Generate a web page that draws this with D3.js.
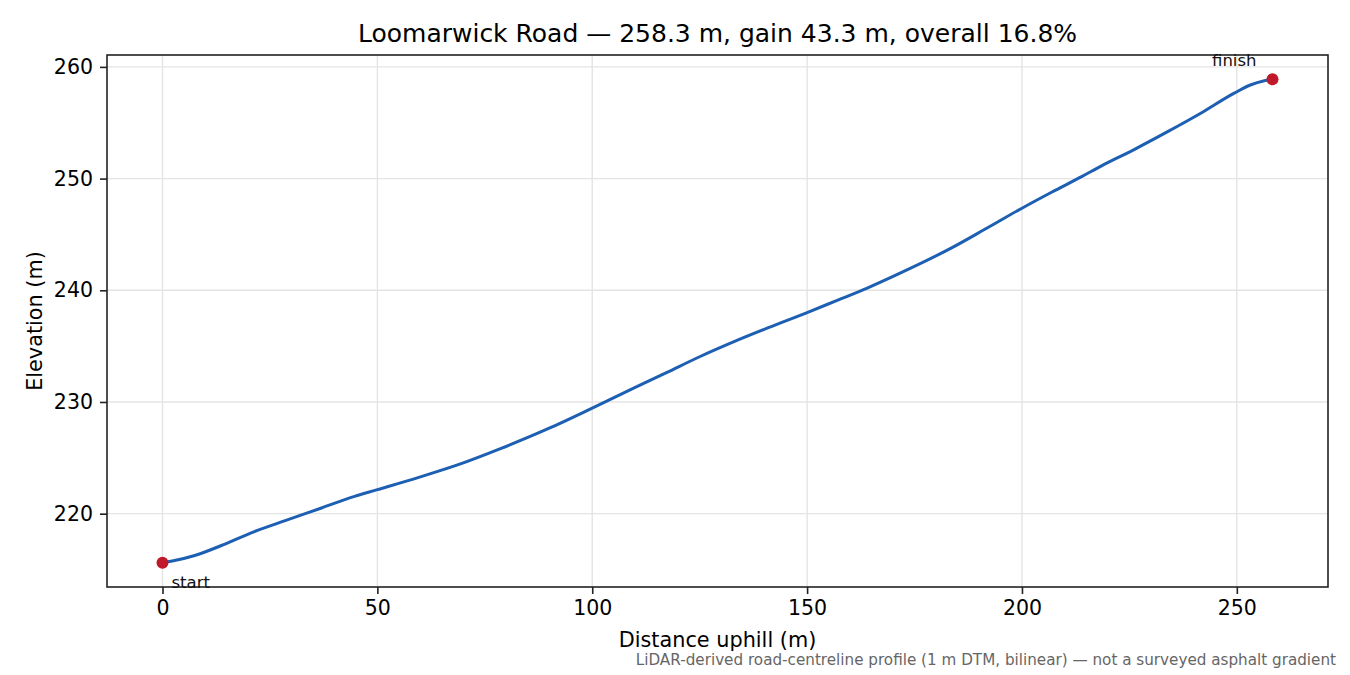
<!DOCTYPE html>
<html>
<head>
<meta charset="utf-8">
<title>Loomarwick Road profile</title>
<script src="https://d3js.org/d3.v7.min.js"></script>
<style>
  body { margin: 0; background: #fff; }
  text { font-family: "DejaVu Sans", sans-serif; }
</style>
</head>
<body>
<div id="chart"></div>
<script>
// distance along the road (m) and elevation (m), read from the profile
const distance = [0, 2.8, 7.5, 13.7, 21.4, 29.2, 37, 44.7, 50, 60, 70, 78.5, 90, 100, 110, 117.4,
                  125, 133, 141, 150, 157, 164, 172, 183.4, 192, 200, 207, 214, 218.3, 226.1,
                  233.9, 241.6, 249.4, 253.3, 256.4, 258.3];
const elevation = [215.6, 215.8, 216.25, 217.15, 218.4, 219.46, 220.51, 221.55, 222.15, 223.3,
                   224.55, 225.8, 227.65, 229.45, 231.3, 232.65, 234.05, 235.4, 236.65, 238.0,
                   239.1, 240.2, 241.6, 243.75, 245.6, 247.35, 248.8, 250.2, 251.1, 252.6,
                   254.2, 255.85, 257.65, 258.4, 258.76, 258.9];
const xTicks = [0, 50, 100, 150, 200, 250];
const yTicks = [220, 230, 240, 250, 260];
const endpoints = ["start", "finish"];

const W = 1350, H = 675;
const margin = {top: 55, right: 22, bottom: 88, left: 107};
const w = W - margin.left - margin.right;
const h = H - margin.top - margin.bottom;

const data = distance.map((d, i) => ({d: d, e: elevation[i]}));

const svg = d3.select("#chart").append("svg")
    .attr("width", W).attr("height", H);
const g = svg.append("g")
    .attr("transform", "translate(" + margin.left + "," + margin.top + ")");

// matplotlib style 5% padding
const xMin = d3.min(distance), xMax = d3.max(distance);
const yMin = d3.min(elevation), yMax = d3.max(elevation);
const xPad = (xMax - xMin) * 0.05, yPad = (yMax - yMin) * 0.05;

const x = d3.scaleLinear().domain([xMin - xPad, xMax + xPad]).range([0, w]);
const y = d3.scaleLinear().domain([yMin - yPad, yMax + yPad]).range([h, 0]);

// grid
g.append("g").selectAll("line").data(xTicks).enter().append("line")
    .attr("x1", d => x(d)).attr("x2", d => x(d))
    .attr("y1", 0).attr("y2", h)
    .attr("stroke", "#e4e4e4").attr("stroke-width", 1.4);
g.append("g").selectAll("line").data(yTicks).enter().append("line")
    .attr("y1", d => y(d)).attr("y2", d => y(d))
    .attr("x1", 0).attr("x2", w)
    .attr("stroke", "#e4e4e4").attr("stroke-width", 1.4);

// axes
const xAxis = g.append("g")
    .attr("transform", "translate(0," + h + ")")
    .call(d3.axisBottom(x).tickValues(xTicks).tickSize(7).tickPadding(6).tickFormat(d3.format("d")));
const yAxis = g.append("g")
    .call(d3.axisLeft(y).tickValues(yTicks).tickSize(7).tickPadding(7).tickFormat(d3.format("d")));
[xAxis, yAxis].forEach(a => {
  a.select(".domain").remove();
  a.selectAll(".tick line").attr("stroke", "#222").attr("stroke-width", 1.6);
  a.selectAll(".tick text").attr("font-size", "20.5px").attr("fill", "#000")
      .attr("font-family", "DejaVu Sans, sans-serif");
});

// frame
g.append("rect").attr("x", 0).attr("y", 0).attr("width", w).attr("height", h)
    .attr("fill", "none").attr("stroke", "#222").attr("stroke-width", 1.6);

// profile line
const line = d3.line().x(d => x(d.d)).y(d => y(d.e)).curve(d3.curveMonotoneX);
g.append("path").datum(data)
    .attr("d", line)
    .attr("fill", "none")
    .attr("stroke", "#1c5fb3")
    .attr("stroke-width", 3)
    .attr("stroke-linejoin", "round");

// endpoints
const ends = [data[0], data[data.length - 1]];
g.selectAll("circle.end").data(ends).enter().append("circle")
    .attr("class", "end")
    .attr("cx", d => x(d.d)).attr("cy", d => y(d.e))
    .attr("r", 6)
    .attr("fill", "#c01a2a");

g.append("text")
    .attr("x", x(ends[0].d) + 9).attr("y", y(ends[0].e) + 25)
    .attr("font-size", "16.5px").attr("fill", "#111")
    .text(endpoints[0]);
g.append("text")
    .attr("x", x(ends[1].d) - 16).attr("y", y(ends[1].e) - 13)
    .attr("text-anchor", "end")
    .attr("font-size", "16.5px").attr("fill", "#111")
    .text(endpoints[1]);

// title
svg.append("text")
    .attr("x", margin.left + w / 2).attr("y", 42)
    .attr("text-anchor", "middle")
    .attr("font-size", "25px").attr("fill", "#000")
    .text("Loomarwick Road \u2014 258.3 m, gain 43.3 m, overall 16.8%");

// axis labels
svg.append("text")
    .attr("x", margin.left + w / 2).attr("y", 647)
    .attr("text-anchor", "middle")
    .attr("font-size", "20.8px").attr("fill", "#000")
    .text("Distance uphill (m)");
svg.append("text")
    .attr("transform", "translate(42," + (margin.top + h / 2) + ") rotate(-90)")
    .attr("text-anchor", "middle")
    .attr("font-size", "20.8px").attr("fill", "#000")
    .text("Elevation (m)");

// footnote
svg.append("text")
    .attr("x", 1336).attr("y", 665)
    .attr("text-anchor", "end")
    .attr("font-size", "15.2px").attr("fill", "#666")
    .text("LiDAR-derived road-centreline profile (1 m DTM, bilinear) \u2014 not a surveyed asphalt gradient");
</script>
</body>
</html>
